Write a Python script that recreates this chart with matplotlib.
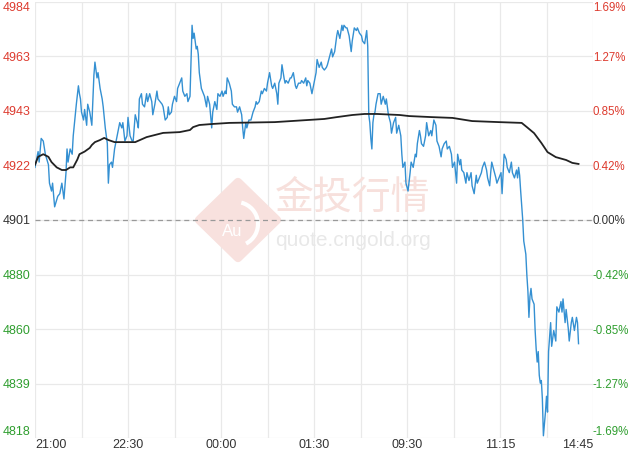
import matplotlib
matplotlib.use("Agg")
import matplotlib.pyplot as plt
from matplotlib.patches import Polygon, Arc

plt.rcParams["font.family"] = ["Liberation Sans", "DejaVu Sans"]

# ── data ──────────────────────────────────────────────────────────────────────
PREV_CLOSE = 4901

Y_TICKS = [4818, 4838.75, 4859.5, 4880.25, 4901, 4921.75, 4942.5, 4963.25, 4984]
Y_LABELS = ["4818", "4839", "4860", "4880", "4901", "4922", "4943", "4963", "4984"]
PCT_LABELS = ["-1.69%", "-1.27%", "-0.85%", "-0.42%", "0.00%",
              "0.42%", "0.85%", "1.27%", "1.69%"]

# trading minutes since 21:00 (night + day sessions joined), one grid cell = 45 min
X_GRID = [0, 45, 90, 135, 180, 225, 270, 315, 360, 405, 450, 495, 540]
X_GRID_LABELS = ["21:00", "", "22:30", "", "00:00", "", "01:30", "",
                 "09:30", "", "11:15", "", "14:45"]

PRICE_MIN = [
    0, 3, 4, 6, 8, 10, 13, 14, 16, 17, 19, 22, 24, 26, 28, 30, 31, 32, 34, 36,
    37, 40, 42, 43, 44, 45, 47, 48, 50, 51, 53, 55, 57, 58, 60, 61, 63, 65, 66, 68,
    70, 71, 72, 74, 75, 77, 80, 82, 84, 85, 87, 89, 90, 92, 94, 95, 97, 99, 100, 101,
    103, 104, 106, 108, 109, 111, 113, 114, 116, 118, 119, 121, 123, 124, 126, 128, 129, 130, 132, 133,
    135, 137, 138, 140, 142, 143, 145, 147, 148, 150, 151, 152, 153, 154, 156, 157, 158, 159, 161, 162,
    164, 166, 167, 169, 171, 172, 174, 176, 177, 179, 181, 182, 184, 185, 186, 188, 190, 191, 193, 195,
    196, 198, 200, 201, 202, 204, 205, 207, 209, 211, 213, 214, 215, 217, 219, 220, 222, 224, 225, 227,
    229, 230, 232, 234, 235, 236, 238, 239, 241, 242, 243, 245, 247, 248, 250, 252, 253, 255, 257, 258,
    260, 262, 263, 264, 266, 268, 269, 270, 272, 273, 275, 277, 278, 280, 282, 283, 285, 287, 288, 290,
    292, 293, 295, 297, 298, 299, 301, 302, 304, 306, 307, 309, 311, 312, 314, 316, 317, 319, 321, 322,
    323, 324, 325, 326, 327, 328, 329, 330, 332, 334, 335, 337, 339, 340, 342, 344, 345, 347, 349, 350,
    352, 354, 355, 356, 358, 359, 361, 363, 364, 366, 368, 369, 370, 372, 373, 374, 376, 378, 379, 381,
    383, 384, 385, 386, 388, 389, 391, 393, 394, 396, 398, 399, 401, 403, 404, 406, 408, 409, 411, 412,
    413, 415, 417, 418, 420, 422, 423, 425, 427, 428, 430, 432, 433, 435, 437, 438, 440, 441, 442, 444,
    446, 447, 449, 451, 452, 454, 456, 457, 459, 461, 462, 464, 466, 467, 468, 469, 470, 472, 473, 475,
    476, 477, 478, 479, 480, 481, 483, 484, 485, 486, 487, 488, 489, 490, 491, 492, 494, 495, 496, 497,
    499, 500, 502, 504, 505, 507, 509, 510, 511, 513, 514, 516, 517, 519, 520, 522, 524, 525, 526,
]
PRICE_VAL = [
    4921, 4927, 4923, 4932, 4931, 4926, 4922, 4915, 4912, 4915, 4906, 4910, 4911, 4915, 4909, 4919, 4928, 4923, 4928, 4926,
    4933, 4945, 4952, 4949, 4947, 4942, 4939, 4943, 4937, 4945, 4942, 4937, 4956, 4961, 4955, 4957, 4951, 4947, 4944, 4936,
    4930, 4915, 4922, 4923, 4921, 4928, 4934, 4938, 4936, 4938, 4931, 4933, 4940, 4933, 4931, 4931, 4941, 4938, 4936, 4947,
    4949, 4945, 4944, 4949, 4946, 4949, 4946, 4941, 4945, 4950, 4947, 4946, 4945, 4944, 4939, 4940, 4944, 4941, 4942, 4945,
    4948, 4946, 4951, 4953, 4955, 4950, 4948, 4949, 4946, 4948, 4961, 4975, 4970, 4972, 4966, 4967, 4964, 4957, 4951, 4950,
    4948, 4944, 4948, 4945, 4936, 4942, 4946, 4943, 4949, 4948, 4950, 4948, 4950, 4949, 4955, 4953, 4950, 4945, 4944, 4944,
    4942, 4944, 4941, 4936, 4932, 4938, 4936, 4939, 4939, 4942, 4944, 4946, 4945, 4946, 4950, 4949, 4951, 4950, 4953, 4957,
    4952, 4951, 4953, 4949, 4945, 4953, 4955, 4960, 4955, 4953, 4954, 4953, 4955, 4955, 4957, 4952, 4951, 4953, 4953, 4954,
    4953, 4955, 4952, 4954, 4953, 4949, 4951, 4953, 4957, 4962, 4959, 4961, 4959, 4958, 4959, 4960, 4963, 4966, 4963, 4965,
    4971, 4973, 4970, 4975, 4973, 4975, 4974, 4974, 4971, 4965, 4969, 4974, 4973, 4974, 4972, 4971, 4969, 4968, 4973, 4967,
    4941, 4938, 4932, 4928, 4938, 4941, 4942, 4945, 4949, 4949, 4945, 4948, 4945, 4947, 4941, 4938, 4934, 4938, 4940, 4934,
    4937, 4933, 4926, 4921, 4923, 4915, 4912, 4919, 4923, 4921, 4926, 4925, 4930, 4935, 4933, 4930, 4929, 4933, 4938, 4933,
    4935, 4933, 4936, 4939, 4937, 4931, 4929, 4925, 4928, 4930, 4931, 4928, 4929, 4926, 4921, 4923, 4915, 4926, 4922, 4924,
    4920, 4919, 4915, 4919, 4916, 4919, 4914, 4911, 4918, 4915, 4917, 4919, 4921, 4923, 4920, 4917, 4914, 4919, 4923, 4920,
    4917, 4915, 4917, 4919, 4911, 4926, 4924, 4921, 4919, 4923, 4919, 4917, 4920, 4917, 4921, 4918, 4912, 4901, 4893, 4888,
    4880, 4874, 4864, 4872, 4875, 4871, 4869, 4859, 4852, 4847, 4851, 4842, 4839, 4840, 4833, 4819, 4828, 4834, 4828, 4851,
    4862, 4853, 4859, 4855, 4868, 4866, 4870, 4866, 4871, 4862, 4867, 4860, 4855, 4862, 4864, 4859, 4864, 4862, 4854,
]

AVG_MIN = [0, 3, 8, 13, 16, 21, 26, 30, 34, 37, 41, 43, 48, 53, 55, 58, 63, 67, 71, 77,
           89, 97, 108, 124, 140, 150, 153, 159, 172, 188, 232, 280, 292, 307, 319, 331, 353, 362, 384, 404,
           423, 449, 471, 476, 483, 490, 496, 504, 514, 520, 526]
AVG_VAL = [4922, 4925, 4926, 4925, 4923, 4921, 4920, 4920, 4921, 4921, 4924, 4926, 4927, 4928.4, 4929.5,
           4930.6, 4931.4, 4932.2, 4931.4, 4930.6, 4930.6, 4930.6, 4932.5, 4934.1, 4934.4, 4935.2, 4936.3,
           4937.1, 4937.5, 4937.9, 4938.2, 4939.4, 4940.1, 4940.9, 4941.3, 4941.3, 4940.9, 4940.5, 4940.1,
           4939.8, 4938.6, 4938.2, 4937.9, 4936.3, 4934.0, 4930.3, 4926.8, 4924.9, 4923.8, 4922.7, 4922.3]

RED = "#dd3b2f"
GREEN = "#2f9e2f"
DARK = "#333333"

W, H = 632, 450


def fx(px):
    return px / W


def fy(py):
    return 1 - py / H


fig = plt.figure(figsize=(W / 100, H / 100), dpi=100)
ax = fig.add_axes([fx(35), 11.6 / H, 558 / W, 436.8 / H])

# ── watermark ─────────────────────────────────────────────────────────────────
wm = "#f8e1de"
diamond = Polygon([(fx(238), fy(182)), (fx(277), fy(220)), (fx(238), fy(258)), (fx(199), fy(220))],
                  closed=True, transform=fig.transFigure, facecolor=wm, edgecolor=wm,
                  linewidth=6, joinstyle="round", zorder=0.6)
ax.add_patch(diamond)
ax.add_patch(Arc((fx(236), fy(224)), 44 / W, 44 / H, theta1=-70, theta2=80,
                 transform=fig.transFigure, color="white", linewidth=3, zorder=0.7))
ax.text(fx(232), fy(231), "Au", transform=fig.transFigure, color="white", fontsize=12,
        ha="center", va="center", zorder=0.8)
ax.text(fx(353), fy(198), "金投行情", transform=fig.transFigure, color="#f7e0dc", fontsize=28,
        family=["Noto Sans CJK SC", "DejaVu Sans"], ha="center", va="center", zorder=0.8)
ax.text(fx(353), fy(240), "quote.cngold.org", transform=fig.transFigure, color="#e8e8e8",
        fontsize=15, ha="center", va="center", zorder=0.8)

# ── lines ─────────────────────────────────────────────────────────────────────
ax.axhline(PREV_CLOSE, color="#999999", linewidth=0.9, linestyle=(0, (4, 3)), zorder=1.5)
ax.plot(PRICE_MIN, PRICE_VAL, color="#3490d2", linewidth=1.0, zorder=3)
ax.plot(AVG_MIN, AVG_VAL, color="#222222", linewidth=1.3, zorder=3)

ax.set_xlim(0, 540)
ax.set_ylim(Y_TICKS[0], Y_TICKS[-1])
ax.set_xticks(X_GRID, X_GRID_LABELS)
ax.set_yticks(Y_TICKS, Y_LABELS)
ax.set_axisbelow(True)
ax.grid(True, color="#e9e9e9", linewidth=0.9)
for s in ax.spines.values():
    s.set_visible(False)
ax.tick_params(axis="both", length=0, labelsize=9, colors=DARK)
ax.tick_params(axis="y", pad=3)
ax.tick_params(axis="x", pad=0.5)

xl = ax.get_xticklabels()
xl[0].set_ha("left")
xl[-1].set_ha("right")

ax2 = ax.twinx()
ax2.set_ylim(Y_TICKS[0], Y_TICKS[-1])
ax2.set_yticks(Y_TICKS, PCT_LABELS)
for s in ax2.spines.values():
    s.set_visible(False)
ax2.tick_params(axis="y", length=0, labelsize=8.3, pad=0)

for labels in (ax.get_yticklabels(), ax2.get_yticklabels()):
    for i, lab in enumerate(labels):
        if i < 4:
            lab.set_color(GREEN)
        elif i > 4:
            lab.set_color(RED)
        else:
            lab.set_color(DARK)
    labels[0].set_va("bottom")
    labels[-1].set_va("top")

fig.savefig("out.png", dpi=100)
